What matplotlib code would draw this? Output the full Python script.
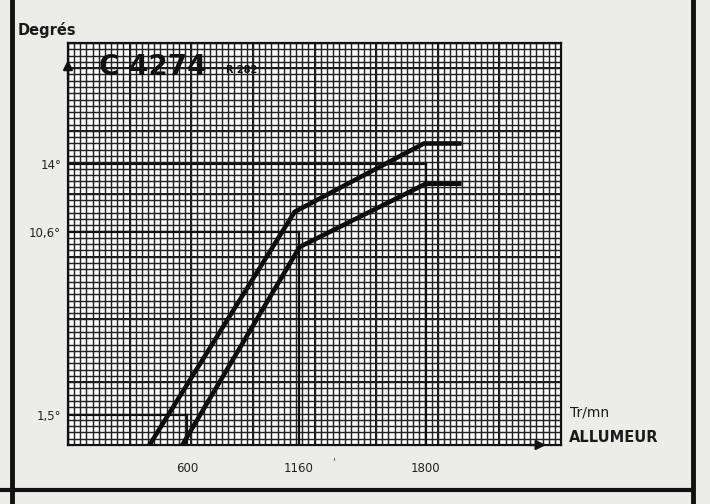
import matplotlib.pyplot as plt
import numpy as np
from matplotlib.ticker import MultipleLocator

# Advance curves (rpm allumeur -> degrees)
upper_rpm = [410, 1140, 1790, 1980]
upper_deg = [0.0, 11.6, 15.0, 15.0]
lower_rpm = [575, 1165, 1800, 1980]
lower_deg = [0.0, 9.85, 13.0, 13.0]

# Reference marks drawn on the chart
ref_rpm = [600, 1160, 1800]
ref_deg = [1.5, 10.6, 14.0]
xtick_labels = ["600", "1160", "1800"]
ytick_labels = ["1,5°", "10,6°", "14°"]

XMAX, YMAX = 2480, 20.0
GRID_X, GRID_Y = 31, 0.3125

fig = plt.figure(figsize=(7.1, 5.04), dpi=100)
fig.patch.set_facecolor("#ececea")
ax = fig.add_axes([68 / 710, 59 / 504, 493 / 710, 402 / 504])
ax.set_facecolor("white")
ax.set_xlim(0, XMAX)
ax.set_ylim(0, YMAX)

# graph paper
ax.xaxis.set_minor_locator(MultipleLocator(GRID_X))
ax.yaxis.set_minor_locator(MultipleLocator(GRID_Y))
ax.grid(which="minor", color="#222222", linewidth=1.05)
for gx in np.arange(0, XMAX, GRID_X * 10):
    ax.axvline(gx, color="#111111", linewidth=1.4, zorder=0.5)
for gy in np.arange(0, YMAX, GRID_Y * 10):
    ax.axhline(gy, color="#111111", linewidth=1.4, zorder=0.5)
ax.set_axisbelow(True)

for s in ax.spines.values():
    s.set_color("#111111")
    s.set_linewidth(1.6)

# reference lines
for r, d in zip(ref_rpm, ref_deg):
    ax.plot([0, r], [d, d], color="#111111", linewidth=1.6, zorder=2)
    ax.plot([r, r], [0, d], color="#111111", linewidth=1.6, zorder=2)

ax.plot(upper_rpm, upper_deg, color="#0d0d0d", linewidth=3.3, zorder=3,
        solid_capstyle="butt", solid_joinstyle="round")
ax.plot(lower_rpm, lower_deg, color="#0d0d0d", linewidth=3.3, zorder=3,
        solid_capstyle="butt", solid_joinstyle="round")

ax.set_xticks(ref_rpm)
ax.set_xticklabels(xtick_labels, fontsize=8.5, color="#222222")
ax.set_yticks(ref_deg)
ax.set_yticklabels(ytick_labels, fontsize=8.5, color="#222222")
ax.tick_params(which="both", length=0)
ax.tick_params(axis="x", pad=12)
ax.tick_params(axis="y", pad=5)

# axis arrows
ax.annotate("", xy=(0.975, 0), xytext=(0.93, 0), xycoords="axes fraction",
            arrowprops=dict(arrowstyle="-|>", color="#111111", lw=1.6,
                            mutation_scale=14), annotation_clip=False)
ax.annotate("", xy=(0, 0.965), xytext=(0, 0.9), xycoords="axes fraction",
            arrowprops=dict(arrowstyle="-|>", color="#111111", lw=1.6,
                            mutation_scale=14), annotation_clip=False)

# texts
fig.text(18 / 710, 1 - 30 / 504, "Degrés", fontsize=10.5, fontweight="bold",
         va="center", ha="left", color="#1a1a1a")
fig.text(99 / 710, 1 - 67 / 504, "C 4274", fontsize=20, fontweight="bold",
         va="center", ha="left", color="#111111")
fig.text(226 / 710, 1 - 70 / 504, "R 282", fontsize=7, fontweight="bold",
         va="center", ha="left", color="#111111")
fig.text(570 / 710, 1 - 413 / 504, "Tr/mn", fontsize=10, va="center", ha="left",
         color="#1a1a1a")
fig.text(569 / 710, 1 - 438 / 504, "ALLUMEUR", fontsize=10.5, fontweight="bold",
         va="center", ha="left", color="#1a1a1a")
fig.text(333 / 710, 1 - 462 / 504, "'", fontsize=8, va="center", ha="left",
         color="#444444")

# page frame lines
fig.add_artist(plt.Line2D([12 / 710, 12 / 710], [0, 1], color="#111111", linewidth=3.5))
fig.add_artist(plt.Line2D([693 / 710, 693 / 710], [0, 1], color="#111111", linewidth=3.5))
fig.add_artist(plt.Line2D([0, 690 / 710], [1 - 490 / 504, 1 - 490 / 504],
                          color="#111111", linewidth=3.0))

fig.savefig("out.png", dpi=100, facecolor=fig.get_facecolor())
